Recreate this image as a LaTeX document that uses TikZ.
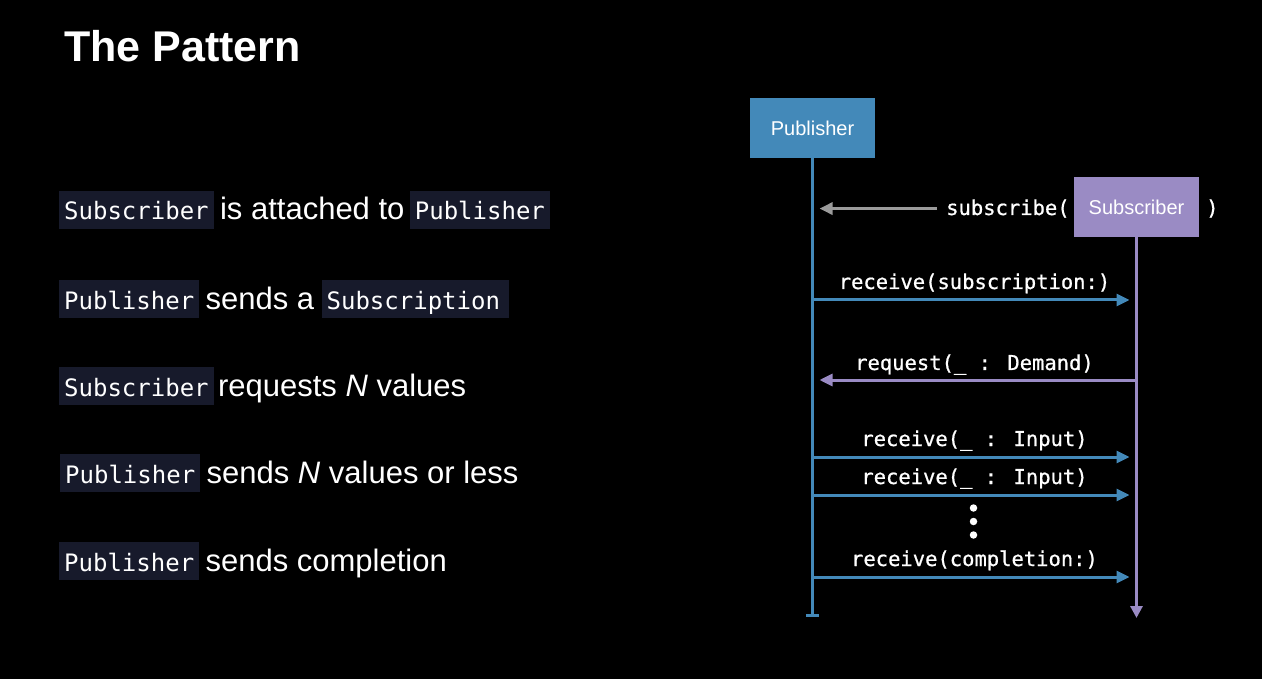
\documentclass[tikz,border=0pt]{standalone}
\usepackage{fontspec}
\setmainfont{Liberation Sans}
\newfontfamily\codefont{DejaVu Sans Mono}
\newfontfamily\callfont{DejaVu Sans Mono}[FakeBold=0.8]
\usetikzlibrary{arrows.meta}

\definecolor{pubblue}{HTML}{4389B9}
\definecolor{subpurple}{HTML}{9A8BC4}
\definecolor{codebg}{HTML}{171A2B}
\definecolor{callgray}{HTML}{9B9B9B}

\tikzset{
  code/.style={fill=codebg, text=white, font=\codefont\fontsize{24}{28}\selectfont,
    inner xsep=5pt, inner ysep=0pt, text height=29pt, text depth=9pt, anchor=base west},
  prose/.style={text=white, font=\fontsize{31}{36}\selectfont, inner sep=0pt, anchor=base west},
  actor/.style={minimum width=125pt, minimum height=60pt, text=white,
    font=\fontsize{20}{24}\selectfont, inner sep=0pt},
  msg/.style={text=white, font=\callfont\fontsize{20.5}{24}\selectfont, inner sep=0pt, anchor=base},
  pubmsg/.style={draw=pubblue, line width=3pt, -{Triangle[length=13pt,width=12pt]}, shorten >=7pt},
  submsg/.style={draw=subpurple, line width=3pt, -{Triangle[length=13pt,width=12pt]}, shorten >=7pt},
  callmsg/.style={draw=callgray, line width=3pt, -{Triangle[length=13pt,width=12pt]},
    shorten >=7pt, shorten <=9pt},
  dotmark/.style={circle, fill=white, inner sep=0pt, minimum size=7.5pt},
}

\begin{document}
\begin{tikzpicture}[x=1pt, y=-1pt]
  \fill[black] (0,0) rectangle (1262,679);
  \useasboundingbox (0,0) rectangle (1262,679);

  % heading
  \node[anchor=base west, text=white, font=\bfseries\fontsize{43}{48}\selectfont, inner sep=0pt]
    (title) at (64,62) {The Pattern};

  % the five steps
  \node[code] (r1a) at (59,220) {Subscriber};
  \node[prose] (r1b) at ([xshift=6pt]r1a.base east) {is attached to};
  \node[code] (r1c) at ([xshift=5pt]r1b.base east) {Publisher};

  \node[code] (r2a) at (59,309) {Publisher};
  \node[prose] (r2b) at ([xshift=6pt]r2a.base east) {sends a};
  \node[code] (r2c) at ([xshift=7pt]r2b.base east) {Subscription\,};

  \node[code] (r3a) at (59,396) {Subscriber};
  \node[prose] (r3b) at ([xshift=4pt]r3a.base east) {requests \textit{N} values};

  \node[code] (r4a) at (60,483) {Publisher};
  \node[prose] (r4b) at ([xshift=6pt]r4a.base east) {sends \textit{N} values or less};

  \node[code] (r5a) at (59,571) {Publisher};
  \node[prose] (r5b) at ([xshift=6pt]r5a.base east) {sends completion};

  % participants and lifelines
  \node[actor, fill=pubblue] (pub) at (812.5,128) {Publisher};
  \node[actor, fill=subpurple] (sub) at (1136.5,207) {Subscriber};
  \coordinate (pubend) at (812.5,617);
  \coordinate (subend) at (1136.5,618);
  \draw[pubblue, line width=3pt, -{Bar[width=13pt,line width=3pt]}] (pub.south) -- (pubend);
  \draw[subpurple, line width=3pt, -{Triangle[length=12pt,width=12pt]}] (sub.south) -- (subend);

  % subscribe call
  \node[msg, anchor=base west] (subcall) at (946,215) {subscribe(};
  \node[msg, anchor=base west] (subclose) at (1206,215) {)};
  \draw[callmsg] (subcall.west) -- (subcall.west -| pub.south);

  % messages between the lifelines
  \coordinate (p1) at (812.5,300);  \coordinate (s1) at (1136.5,300);
  \coordinate (p2) at (812.5,380);  \coordinate (s2) at (1136.5,380);
  \coordinate (p3) at (812.5,457);  \coordinate (s3) at (1136.5,457);
  \coordinate (p4) at (812.5,495);  \coordinate (s4) at (1136.5,495);
  \coordinate (p5) at (812.5,577);  \coordinate (s5) at (1136.5,577);

  \node[msg] (m1) at (974.5,289) {receive(subscription:)};
  \draw[pubmsg] (p1) -- (s1);

  \node[msg] (m2) at (974.5,370) {request(\_ : Demand)};
  \draw[submsg] (s2) -- (p2);

  \node[msg] (m3) at (974.5,446) {receive(\_ : Input)};
  \draw[pubmsg] (p3) -- (s3);

  \node[msg] (m4) at (974.5,484) {receive(\_ : Input)};
  \draw[pubmsg] (p4) -- (s4);

  \node[dotmark] (d1) at (973.5,508) {};
  \node[dotmark] (d2) at (973.5,521.5) {};
  \node[dotmark] (d3) at (973.5,535) {};

  \node[msg] (m5) at (974.5,566) {receive(completion:)};
  \draw[pubmsg] (p5) -- (s5);
\end{tikzpicture}
\end{document}
